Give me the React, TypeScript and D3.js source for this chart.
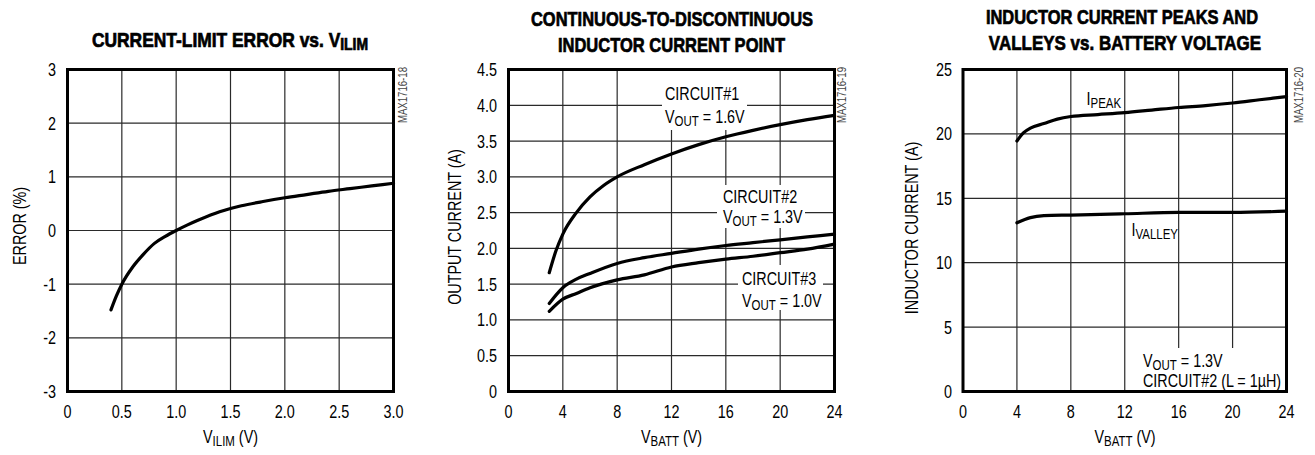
import React, { useLayoutEffect, useRef, useState } from 'react';
import * as d3 from 'd3';

// ---------- Panel 1: current-limit error vs VILIM ----------
const vilimX = [0.4, 0.45, 0.5, 0.6, 0.7, 0.8, 0.9, 1.0, 1.1, 1.2, 1.4, 1.5, 1.6, 1.8, 2.0, 2.2, 2.4, 2.6, 2.8, 3.0];
const errorY = [-1.48, -1.22, -1.0, -0.68, -0.44, -0.24, -0.11, 0, 0.1, 0.19, 0.35, 0.41, 0.46, 0.54, 0.61, 0.67, 0.73, 0.78, 0.83, 0.88];
const p1XTicks = [0, 0.5, 1.0, 1.5, 2.0, 2.5, 3.0];
const p1XTickLabels = ['0', '0.5', '1.0', '1.5', '2.0', '2.5', '3.0'];
const p1YTicks = [-3, -2, -1, 0, 1, 2, 3];

// ---------- Panel 2: continuous-to-discontinuous point ----------
const c1X = [3, 3.5, 4, 5, 6, 7, 8, 10, 12, 14, 16, 18, 20, 22, 24];
const c1Y = [1.66, 1.97, 2.2, 2.5, 2.72, 2.88, 3.0, 3.17, 3.32, 3.45, 3.56, 3.65, 3.73, 3.8, 3.86];
const c2X = [3, 4, 5, 6, 8, 10, 12, 14, 16, 18, 20, 22, 24];
const c2Y = [1.23, 1.45, 1.57, 1.65, 1.79, 1.87, 1.93, 1.99, 2.04, 2.08, 2.12, 2.16, 2.2];
const c3X = [3, 4, 5, 6, 8, 10, 12, 14, 16, 18, 20, 22, 24];
const c3Y = [1.12, 1.29, 1.37, 1.45, 1.56, 1.63, 1.74, 1.8, 1.85, 1.89, 1.94, 1.99, 2.06];
const vbattTicks = [0, 4, 8, 12, 16, 20, 24];
const p2YTicks = [0, 0.5, 1.0, 1.5, 2.0, 2.5, 3.0, 3.5, 4.0, 4.5];
const p2YTickLabels = ['0', '0.5', '1.0', '1.5', '2.0', '2.5', '3.0', '3.5', '4.0', '4.5'];

// ---------- Panel 3: inductor current peaks and valleys ----------
const peakX = [4, 4.5, 5, 6, 7, 8, 10, 12, 14, 16, 18, 20, 22, 24];
const peakY = [19.45, 20.1, 20.45, 20.8, 21.15, 21.35, 21.5, 21.65, 21.85, 22.05, 22.2, 22.4, 22.65, 22.9];
const valleyX = [4, 5, 6, 8, 12, 16, 20, 24];
const valleyY = [13.1, 13.5, 13.65, 13.7, 13.8, 13.9, 13.9, 14.0];
const p3YTicks = [0, 5, 10, 15, 20, 25];

const FONT = "'Liberation Sans', Arial, Helvetica, sans-serif";
const TOP = 69.5;
const BOTTOM = 391.5;
const TICK_SIZE = 18;
const TICK_SX = 0.8;

type TxtProps = {
  x: number; y: number; children: React.ReactNode; size?: number; anchor?: string;
  sx?: number; weight?: number | string; rotate?: number; fill?: string; fitWidth?: number; stroke?: string; strokeWidth?: number;
};

function Txt({ x, y, children, size = 17, anchor = 'start', sx = 0.82, weight = 400, rotate = 0, fill = '#000', fitWidth, stroke, strokeWidth }: TxtProps) {
  const ref = useRef<SVGTextElement>(null);
  const [scale, setScale] = useState(sx);
  useLayoutEffect(() => {
    if (fitWidth && ref.current) {
      const w = ref.current.getBBox().width;
      if (w > 0) setScale(fitWidth / w);
    }
  }, [fitWidth]);
  const t = `translate(${x},${y})` + (rotate ? ` rotate(${rotate})` : '') + ` scale(${scale},1)`;
  return (
    <text ref={ref} transform={t} textAnchor={anchor as any} fontSize={size} fontWeight={weight as any}
      fill={fill} stroke={stroke} strokeWidth={strokeWidth} fontFamily={FONT}>
      {children}
    </text>
  );
}

const Sub = ({ children }: { children: React.ReactNode }) => (
  <tspan fontSize="0.8em" dy={3}>{children}</tspan>
);
const Up = ({ children }: { children: React.ReactNode }) => <tspan dy={-3}>{children}</tspan>;

function Grid({ x, y, xTicks, yTicks }: { x: d3.ScaleLinear<number, number>; y: d3.ScaleLinear<number, number>; xTicks: number[]; yTicks: number[] }) {
  const [x0, x1] = x.range();
  const [y0, y1] = y.range();
  return (
    <g stroke="#2a2a2a" strokeWidth={1.2}>
      {xTicks.map((t, i) => (
        <line key={'x' + i} x1={x(t)} x2={x(t)} y1={y0} y2={y1} />
      ))}
      {yTicks.map((t, i) => (
        <line key={'y' + i} x1={x0} x2={x1} y1={y(t)} y2={y(t)} />
      ))}
    </g>
  );
}

function Frame({ x, y }: { x: d3.ScaleLinear<number, number>; y: d3.ScaleLinear<number, number> }) {
  const [x0, x1] = x.range();
  const [yb, yt] = y.range();
  return <rect x={x0} y={yt} width={x1 - x0} height={yb - yt} fill="none" stroke="#000" strokeWidth={3} />;
}

function Curve({ xs, ys, x, y }: { xs: number[]; ys: number[]; x: d3.ScaleLinear<number, number>; y: d3.ScaleLinear<number, number> }) {
  const pts = xs.map((v, i) => [v, ys[i]] as [number, number]);
  const line = d3.line<[number, number]>().x(d => x(d[0])).y(d => y(d[1])).curve(d3.curveMonotoneX);
  return <path d={line(pts) || ''} fill="none" stroke="#000" strokeWidth={3.2} strokeLinecap="round" strokeLinejoin="round" />;
}

function XTickLabels({ x, ticks, labels }: { x: d3.ScaleLinear<number, number>; ticks: number[]; labels?: string[] }) {
  return (
    <g>
      {ticks.map((t, i) => (
        <Txt key={i} x={x(t)} y={418} anchor="middle" size={TICK_SIZE} sx={TICK_SX}>{labels ? labels[i] : String(t)}</Txt>
      ))}
    </g>
  );
}

function YTickLabels({ y, ticks, labels, right }: { y: d3.ScaleLinear<number, number>; ticks: number[]; labels?: string[]; right: number }) {
  return (
    <g>
      {ticks.map((t, i) => (
        <Txt key={i} x={right} y={y(t) + 6.5} anchor="end" size={TICK_SIZE} sx={TICK_SX}>{labels ? labels[i] : String(t)}</Txt>
      ))}
    </g>
  );
}

export default function App() {
  // scales
  const x1 = d3.scaleLinear().domain([0, 3]).range([67.5, 393.5]);
  const y1 = d3.scaleLinear().domain([-3, 3]).range([BOTTOM, TOP]);
  const x2 = d3.scaleLinear().domain([0, 24]).range([508.5, 834.5]);
  const y2 = d3.scaleLinear().domain([0, 4.5]).range([BOTTOM, TOP]);
  const x3 = d3.scaleLinear().domain([0, 24]).range([963, 1286.5]);
  const y3 = d3.scaleLinear().domain([0, 25]).range([BOTTOM, TOP]);

  const titleSize = 20;
  const titleStroke = '#000';
  const titleSW = 0.7;

  return (
    <svg width={1315} height={455} style={{ position: 'absolute', left: 0, top: 0, background: '#fff' }}>
      <rect x={0} y={0} width={1315} height={455} fill="#fff" />

      {/* ---------------- Panel 1 ---------------- */}
      <Txt x={230} y={46.7} anchor="middle" size={titleSize} weight={700} fitWidth={276} stroke={titleStroke} strokeWidth={titleSW}>
        CURRENT-LIMIT ERROR vs. V<Sub>ILIM</Sub>
      </Txt>
      <Grid x={x1} y={y1} xTicks={p1XTicks} yTicks={p1YTicks} />
      <Frame x={x1} y={y1} />
      <Curve xs={vilimX} ys={errorY} x={x1} y={y1} />
      <XTickLabels x={x1} ticks={p1XTicks} labels={p1XTickLabels} />
      <YTickLabels y={y1} ticks={p1YTicks} right={56} />
      <Txt x={230.5} y={443}>{''}</Txt>
      <Txt x={230.5} y={443} anchor="middle" size={17.5}>V<Sub>ILIM</Sub><Up>{' (V)'}</Up></Txt>
      <Txt x={26} y={226} anchor="middle" rotate={-90} size={17.5}>ERROR (%)</Txt>
      <Txt x={406.5} y={67} anchor="end" rotate={-90} size={13} sx={0.74} fill="#444">MAX1716-18</Txt>

      {/* ---------------- Panel 2 ---------------- */}
      <Txt x={672} y={25.5} anchor="middle" size={titleSize} weight={700} fitWidth={282} stroke={titleStroke} strokeWidth={titleSW}>
        CONTINUOUS-TO-DISCONTINUOUS
      </Txt>
      <Txt x={671.5} y={51.5} anchor="middle" size={titleSize} weight={700} fitWidth={227} stroke={titleStroke} strokeWidth={titleSW}>
        INDUCTOR CURRENT POINT
      </Txt>
      <Grid x={x2} y={y2} xTicks={vbattTicks} yTicks={p2YTicks} />
      {/* label boxes interrupting the grid */}
      <rect x={662} y={TOP} width={85} height={130 - TOP} fill="#fff" />
      <rect x={717} y={185} width={88} height={43} fill="#fff" />
      <rect x={738} y={265} width={85} height={45} fill="#fff" />
      <Frame x={x2} y={y2} />
      <Curve xs={c1X} ys={c1Y} x={x2} y={y2} />
      <Curve xs={c2X} ys={c2Y} x={x2} y={y2} />
      <Curve xs={c3X} ys={c3Y} x={x2} y={y2} />
      <Txt x={665} y={100} size={17.5}>CIRCUIT#1</Txt>
      <Txt x={665} y={123} size={17.5}>V<Sub>OUT</Sub><Up>{' = 1.6V'}</Up></Txt>
      <Txt x={723} y={203} size={17.5}>CIRCUIT#2</Txt>
      <Txt x={723} y={223} size={17.5}>V<Sub>OUT</Sub><Up>{' = 1.3V'}</Up></Txt>
      <Txt x={742} y={285} size={17.5}>CIRCUIT#3</Txt>
      <Txt x={742} y={307} size={17.5}>V<Sub>OUT</Sub><Up>{' = 1.0V'}</Up></Txt>
      <XTickLabels x={x2} ticks={vbattTicks} />
      <YTickLabels y={y2} ticks={p2YTicks} labels={p2YTickLabels} right={497} />
      <Txt x={671.5} y={443} anchor="middle" size={17.5}>V<Sub>BATT</Sub><Up>{' (V)'}</Up></Txt>
      <Txt x={461} y={227} anchor="middle" rotate={-90} size={17.5}>OUTPUT CURRENT (A)</Txt>
      <Txt x={846} y={67} anchor="end" rotate={-90} size={13} sx={0.74} fill="#444">MAX1716-19</Txt>

      {/* ---------------- Panel 3 ---------------- */}
      <Txt x={1122} y={24} anchor="middle" size={titleSize} weight={700} fitWidth={272} stroke={titleStroke} strokeWidth={titleSW}>
        INDUCTOR CURRENT PEAKS AND
      </Txt>
      <Txt x={1125} y={50} anchor="middle" size={titleSize} weight={700} fitWidth={272} stroke={titleStroke} strokeWidth={titleSW}>
        VALLEYS vs. BATTERY VOLTAGE
      </Txt>
      <Grid x={x3} y={y3} xTicks={vbattTicks} yTicks={p3YTicks} />
      <rect x={1136} y={348} width={150} height={BOTTOM - 348} fill="#fff" />
      <Frame x={x3} y={y3} />
      <Curve xs={peakX} ys={peakY} x={x3} y={y3} />
      <Curve xs={valleyX} ys={valleyY} x={x3} y={y3} />
      <Txt x={1086.5} y={105} size={17.5}>I<Sub>PEAK</Sub></Txt>
      <Txt x={1131.5} y={236} size={17.5}>I<Sub>VALLEY</Sub></Txt>
      <Txt x={1143} y={367} size={17.5}>V<Sub>OUT</Sub><Up>{' = 1.3V'}</Up></Txt>
      <Txt x={1143} y={387} size={17.5}>CIRCUIT#2 (L = 1µH)</Txt>
      <XTickLabels x={x3} ticks={vbattTicks} />
      <YTickLabels y={y3} ticks={p3YTicks} right={952} />
      <Txt x={1125} y={443} anchor="middle" size={17.5}>V<Sub>BATT</Sub><Up>{' (V)'}</Up></Txt>
      <Txt x={918} y={228} anchor="middle" rotate={-90} size={17.5}>INDUCTOR CURRENT (A)</Txt>
      <Txt x={1303} y={67} anchor="end" rotate={-90} size={13} sx={0.74} fill="#444">MAX1716-20</Txt>
    </svg>
  );
}
